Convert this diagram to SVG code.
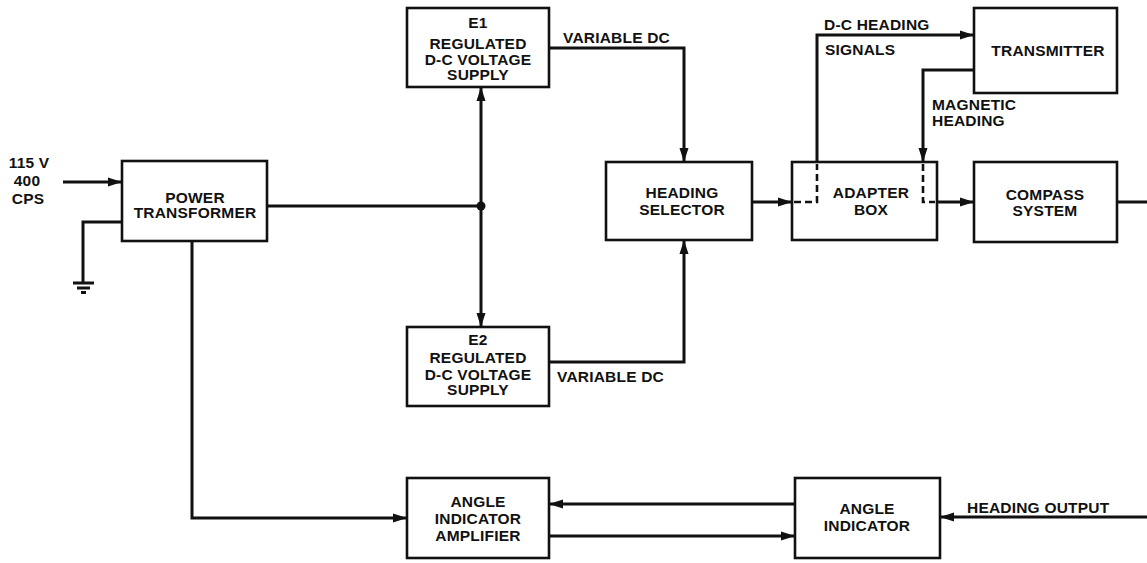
<svg xmlns="http://www.w3.org/2000/svg" width="1147" height="563" viewBox="0 0 1147 563">
<defs>
<marker id="ah" markerUnits="userSpaceOnUse" markerWidth="14" markerHeight="10" refX="13" refY="5" orient="auto">
<path d="M0,0.5 L14,5 L0,9.5 Z" fill="#111"/>
</marker>
</defs>
<style>
.box{fill:#fff;stroke:#111;stroke-width:2.6}
.ln{fill:none;stroke:#111;stroke-width:3;stroke-linejoin:miter}
.dash{fill:none;stroke:#111;stroke-width:2.6;stroke-dasharray:7,4}
text{font-family:"Liberation Sans",Arial,sans-serif;font-weight:bold;font-size:15.5px;fill:#111;letter-spacing:0.2px}
.c{text-anchor:middle}
</style>
<rect width="1147" height="563" fill="#fff"/>
<g id="power-transformer">
<rect class="box" x="122" y="161" width="145" height="80"/>
<text class="c" x="195" y="203">POWER</text>
<text class="c" x="195" y="218">TRANSFORMER</text>
</g>
<g id="e1-supply">
<rect class="box" x="407" y="8" width="142" height="79"/>
<text class="c" x="478" y="28">E1</text>
<text class="c" x="478" y="49">REGULATED</text>
<text class="c" x="478" y="65">D-C VOLTAGE</text>
<text class="c" x="478" y="80">SUPPLY</text>
</g>
<g id="e2-supply">
<rect class="box" x="407" y="327" width="142" height="79"/>
<text class="c" x="478" y="345">E2</text>
<text class="c" x="478" y="363">REGULATED</text>
<text class="c" x="478" y="380">D-C VOLTAGE</text>
<text class="c" x="478" y="395">SUPPLY</text>
</g>
<g id="heading-selector">
<rect class="box" x="606" y="162" width="146" height="78"/>
<text class="c" x="682" y="198">HEADING</text>
<text class="c" x="682" y="215">SELECTOR</text>
</g>
<g id="adapter-box">
<rect class="box" x="792" y="162" width="145" height="78"/>
<text class="c" x="871" y="198">ADAPTER</text>
<text class="c" x="871" y="215">BOX</text>
</g>
<g id="transmitter">
<rect class="box" x="974" y="8" width="143" height="85"/>
<text class="c" x="1048" y="56">TRANSMITTER</text>
</g>
<g id="compass-system">
<rect class="box" x="974" y="162" width="143" height="80"/>
<text class="c" x="1045" y="200">COMPASS</text>
<text class="c" x="1045" y="216">SYSTEM</text>
</g>
<g id="angle-indicator-amplifier">
<rect class="box" x="407" y="478" width="142" height="80"/>
<text class="c" x="478" y="507">ANGLE</text>
<text class="c" x="478" y="524">INDICATOR</text>
<text class="c" x="478" y="541">AMPLIFIER</text>
</g>
<g id="angle-indicator">
<rect class="box" x="795" y="478" width="145" height="80"/>
<text class="c" x="867" y="514">ANGLE</text>
<text class="c" x="867" y="531">INDICATOR</text>
</g>
<g id="connectors">
<path class="ln" d="M63,182 H121" marker-end="url(#ah)"/>
<path class="ln" d="M122,222 H83 V283"/>
<path class="ln" d="M73,283 H94 M77,288 H90 M81,292.5 H86" stroke-width="2.5"/>
<path class="ln" d="M267,206 H481"/>
<circle cx="481" cy="206" r="4.5" fill="#111"/>
<path class="ln" d="M481,206 V88" marker-end="url(#ah)"/>
<path class="ln" d="M481,206 V326" marker-end="url(#ah)"/>
<path class="ln" d="M549,48 H684 V161" marker-end="url(#ah)"/>
<path class="ln" d="M549,362 H684 V241" marker-end="url(#ah)"/>
<path class="ln" d="M752,202 H791" marker-end="url(#ah)"/>
<path class="dash" d="M794,202 H817 V164"/>
<path class="ln" d="M817,162 V35 H973" marker-end="url(#ah)"/>
<path class="ln" d="M974,70 H923 V161" marker-end="url(#ah)"/>
<path class="dash" d="M923,164 V202 H935"/>
<path class="ln" d="M937,202 H973" marker-end="url(#ah)"/>
<path class="ln" d="M1117,202 H1147"/>
<path class="ln" d="M192,241 V518 H406" marker-end="url(#ah)"/>
<path class="ln" d="M795,504 H550" marker-end="url(#ah)"/>
<path class="ln" d="M549,536 H794" marker-end="url(#ah)"/>
<path class="ln" d="M1147,517 H941" marker-end="url(#ah)"/>
<text x="563" y="43">VARIABLE DC</text>
<text x="557" y="382">VARIABLE DC</text>
<text x="824" y="30">D-C HEADING</text>
<text x="825" y="55">SIGNALS</text>
<text x="932" y="110">MAGNETIC</text>
<text x="932" y="126">HEADING</text>
<text x="967" y="513">HEADING OUTPUT</text>
<text class="c" x="29" y="168">115 V</text>
<text class="c" x="27" y="186">400</text>
<text class="c" x="28" y="204">CPS</text>
</g>
</svg>
